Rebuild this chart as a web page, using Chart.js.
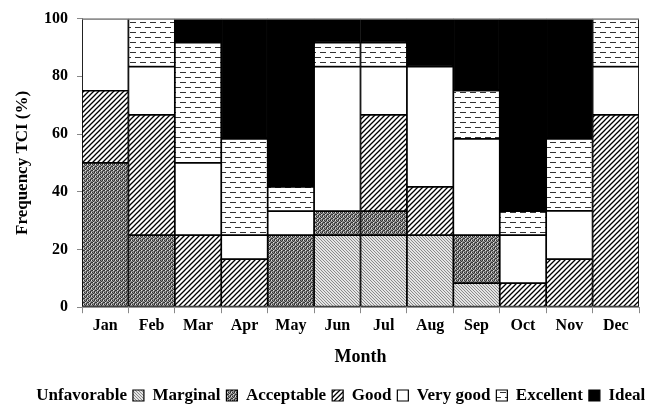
<!DOCTYPE html>
<html><head><meta charset="utf-8">
<script src="https://cdn.jsdelivr.net/npm/chart.js@4"></script>
<style>html,body{margin:0;padding:0;background:#fff}#w{width:662px;height:414px}</style>
</head><body><div id="w"><canvas id="c"></canvas></div>
<script>
const months = ['Jan','Feb','Mar','Apr','May','Jun','Jul','Aug','Sep','Oct','Nov','Dec'];
const unfavorable = [0,0,0,0,0,0,0,0,0,0,0,0];
const marginal    = [0,0,0,0,0,25,25,25,8.33,0,0,0];
const acceptable  = [50,25,0,0,25,8.33,8.33,0,16.67,0,0,0];
const good        = [25,41.67,25,16.67,0,0,33.33,16.67,0,8.33,16.67,66.67];
const veryGood    = [25,16.67,25,8.33,8.33,50,16.67,41.67,33.33,16.67,16.67,16.67];
const excellent   = [0,16.67,41.67,33.33,8.33,8.33,8.33,0,16.67,8.33,25,16.67];
const ideal       = [0,0,8.33,41.67,58.33,8.33,8.33,16.67,25,66.67,41.67,0];
const yTicks = [0,20,40,60,80,100];

function tile(w,h,draw){const c=document.createElement('canvas');c.width=w;c.height=h;const x=c.getContext('2d');draw(x);return x.createPattern(c,'repeat');}
const pGood = tile(5,5,x=>{x.fillStyle='#fff';x.fillRect(0,0,5,5);x.strokeStyle='#000';x.lineWidth=1.3;x.beginPath();x.moveTo(-1,6);x.lineTo(6,-1);x.moveTo(-1,1);x.lineTo(1,-1);x.moveTo(4,6);x.lineTo(6,4);x.stroke();});
const pMarg = tile(3,3,x=>{x.fillStyle='#e4e4e4';x.fillRect(0,0,3,3);x.fillStyle='#8a8a8a';x.fillRect(0,0,1,1);x.fillRect(1,1,1,1);x.fillRect(2,2,1,1);});
const pAcc = tile(4,4,x=>{x.fillStyle='#8e8e8e';x.fillRect(0,0,4,4);x.fillStyle='#333';x.fillRect(0,0,1,1);x.fillRect(2,0,1,1);x.fillRect(1,1,1,1);x.fillRect(3,2,1,1);x.fillRect(0,2,1,1);x.fillRect(2,3,1,1);x.fillStyle='#e0e0e0';x.fillRect(1,2,1,1);x.fillRect(3,0,1,1);});
const pExc = tile(10,10,x=>{x.fillStyle='#fff';x.fillRect(0,0,10,10);x.fillStyle='#333';x.fillRect(0,2,6,1);x.fillRect(5,7,5,1);x.fillRect(0,7,1,1);});

const ds = (label,data,bg,bw)=>({label,data,backgroundColor:bg,borderColor:'#000',borderWidth:bw,borderSkipped:false});
const borderPlugin={id:'bp',afterDatasetsDraw(ch){const a=ch.chartArea,x=ch.ctx;x.save();x.strokeStyle='#999';x.lineWidth=1;x.beginPath();x.moveTo(a.left,a.top+0.5);x.lineTo(a.right,a.top+0.5);x.stroke();x.restore();}};

new Chart(document.getElementById('c'),{
 type:'bar',
 data:{labels:months,datasets:[
  ds('Unfavorable',unfavorable,'#fff',0),
  ds('Marginal',marginal,pMarg,1.2),
  ds('Acceptable',acceptable,pAcc,1.2),
  ds('Good',good,pGood,1.2),
  ds('Very good',veryGood,'#fff',1.2),
  ds('Excellent',excellent,pExc,1.2),
  ds('Ideal',ideal,'#000',1.2)
 ]},
 plugins:[borderPlugin],
 options:{
  responsive:true,maintainAspectRatio:false,animation:false,
  layout:{padding:{top:4,right:0,left:0,bottom:0}},
  datasets:{bar:{barPercentage:1,categoryPercentage:1}},
  plugins:{
   tooltip:{enabled:false},
   legend:{position:'bottom',labels:{color:'#000',font:{family:'Liberation Serif',size:17,weight:'bold'},boxWidth:11,boxHeight:11,padding:6}}
  },
  scales:{
   x:{stacked:true,grid:{display:true,drawOnChartArea:false,color:'#888',tickLength:6},border:{color:'#888'},
      ticks:{color:'#000',font:{family:'Liberation Serif',size:16,weight:'bold'},padding:3},
      title:{display:true,text:'Month',color:'#000',font:{family:'Liberation Serif',size:18,weight:'bold'},padding:{top:8,bottom:13}}},
   y:{stacked:true,min:0,max:100,grid:{display:true,drawOnChartArea:false,color:'#888',tickLength:5},border:{color:'#888'},
      afterBuildTicks(s){s.ticks=yTicks.map(v=>({value:v}));},
      afterFit(s){s.width=82;},
      ticks:{color:'#000',font:{family:'Liberation Serif',size:16,weight:'bold'},padding:9},
      title:{display:true,text:'Frequency TCI (%)',color:'#000',font:{family:'Liberation Serif',size:17,weight:'bold'},padding:{top:12,bottom:10}}},
   yr:{position:'right',display:true,grid:{display:false},border:{display:false},ticks:{display:false},afterFit(s){s.width=23;}}
  }
 }
});
</script></body></html>
